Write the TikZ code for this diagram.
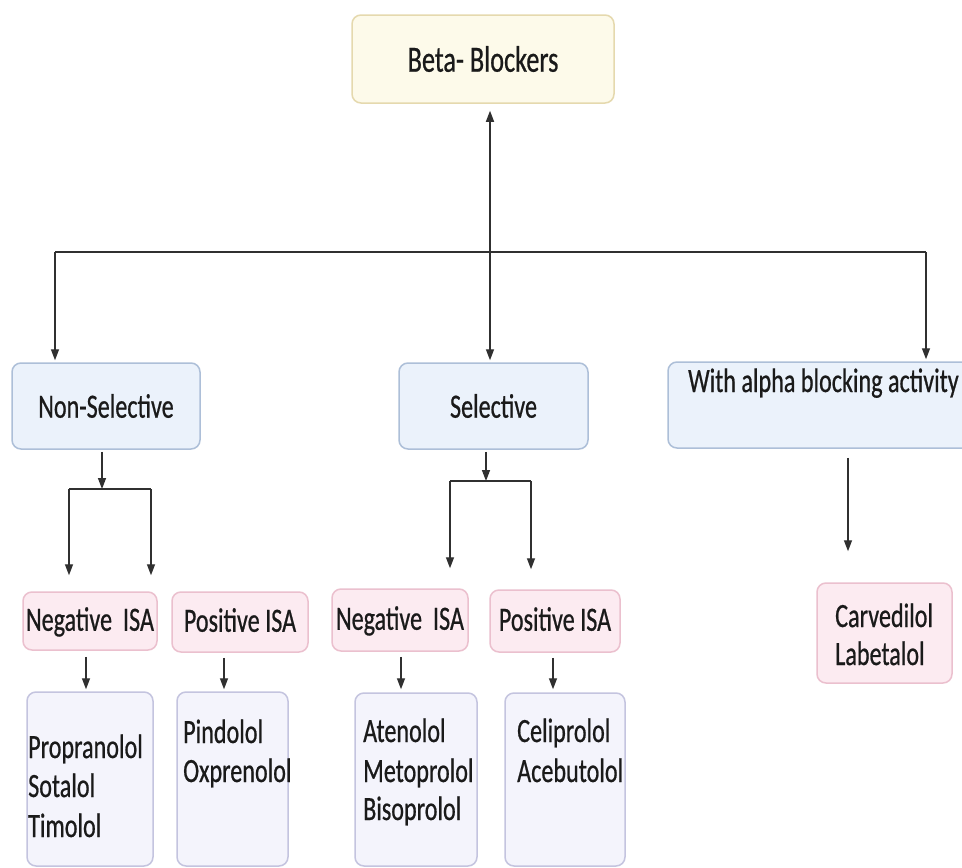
\documentclass[tikz,border=0pt]{standalone}
\usepackage{fontspec}
\setmainfont{Carlito}[FakeStretch=0.71,FakeBold=0.6]
\usetikzlibrary{arrows.meta,calc}
\definecolor{txt}{HTML}{1A1A1A}
\definecolor{lnc}{HTML}{303030}
\definecolor{betaF}{HTML}{FDFAEA}
\definecolor{betaD}{HTML}{E5D9AE}
\definecolor{blueF}{HTML}{EBF2FB}
\definecolor{blueD}{HTML}{ADBFD8}
\definecolor{pinkF}{HTML}{FCEBF1}
\definecolor{pinkD}{HTML}{EBC0CE}
\definecolor{lavF}{HTML}{F4F4FC}
\definecolor{lavD}{HTML}{C4C4DF}
\begin{document}
\begin{tikzpicture}[x=1pt,y=-1pt,
  every node/.style={text=txt, font=\fontsize{34}{40}\selectfont},
  box/.style={rounded corners=9pt, line width=1.5pt, inner sep=0pt},
  betabox/.style={box, fill=betaF, draw=betaD},
  bluebox/.style={box, fill=blueF, draw=blueD},
  pinkbox/.style={box, fill=pinkF, draw=pinkD},
  lavbox/.style={box, fill=lavF, draw=lavD},
  lbl/.style={anchor=base west, inner sep=0pt},
  conn/.style={draw=lnc, line width=1.4pt},
  arr/.style={conn, -{Triangle[length=11pt,width=8pt]}}]
\useasboundingbox (0,0) rectangle (962,868);
\fill[white] (0,0) rectangle (962,868);

% boxes
\node[betabox, minimum width=262pt, minimum height=88pt, font=\fontsize{37}{44}\selectfont] (beta) at (483,59) {Beta- Blockers};
\node[bluebox, minimum width=188pt, minimum height=86pt] (ns) at (106,406) {Non-Selective};
\node[bluebox, minimum width=189pt, minimum height=86pt] (sel) at (493.5,406) {Selective};
\node[bluebox, minimum width=307pt, minimum height=86pt] (al) at (821.5,405) {};
\node[lbl] (altxt) at (688,392) {With alpha blocking activity};

\node[pinkbox, minimum width=134pt, minimum height=58pt, text depth=4pt] (ln) at (90,621) {Negative~~ISA};
\node[pinkbox, minimum width=136pt, minimum height=60pt, text depth=4pt] (lp) at (240,622) {Positive ISA};
\node[pinkbox, minimum width=136pt, minimum height=62pt, text depth=4pt] (sn) at (400,620) {Negative~~ISA};
\node[pinkbox, minimum width=130pt, minimum height=62pt, text depth=4pt] (sp) at (555,621) {Positive ISA};
\node[pinkbox, minimum width=135pt, minimum height=100pt] (cl) at (884.5,633) {};

\node[lavbox, minimum width=126pt, minimum height=174pt] (d1) at (90,779) {};
\node[lavbox, minimum width=111pt, minimum height=174pt] (d2) at (232.5,779) {};
\node[lavbox, minimum width=122pt, minimum height=173pt] (d3) at (416,779.5) {};
\node[lavbox, minimum width=120pt, minimum height=173pt] (d4) at (565,779.5) {};

% drug names
\node[lbl] (t11) at (28,758) {Propranolol};
\node[lbl] (t12) at (28,797) {Sotalol};
\node[lbl] (t13) at (28,837) {Timolol};
\node[lbl] (t21) at (183,743) {Pindolol};
\node[lbl] (t22) at (183,782) {Oxprenolol};
\node[lbl] (t31) at (363,742) {Atenolol};
\node[lbl] (t32) at (363,782) {Metoprolol};
\node[lbl] (t33) at (363,820) {Bisoprolol};
\node[lbl] (t41) at (517,742) {Celiprolol};
\node[lbl] (t42) at (517,782) {Acebutolol};
\node[lbl] (t51) at (835,627) {Carvedilol};
\node[lbl] (t52) at (835,665) {Labetalol};

% main bar
\coordinate (bl) at (55,252);
\coordinate (jc) at (490,252);
\coordinate (br) at (926,252);
\draw[draw=lnc, line width=2.8pt] (bl) -- (br);
\draw[arr, shorten >=7pt] (jc) -- (jc |- beta.south);
\draw[arr, shorten >=2pt] (bl) -- (bl |- ns.north);
\draw[arr, shorten >=2pt] (jc) -- (jc |- sel.north);
\draw[arr, shorten >=2pt] (br) -- (br |- al.north);

% non-selective split
\coordinate (nsj) at (102,489);
\coordinate (nsl) at (69,489);
\coordinate (nsr) at (151,489);
\draw[arr, shorten <=2pt] (nsj |- ns.south) -- (nsj);
\draw[conn] (nsl) -- (nsr);
\draw[arr, shorten >=16pt] (nsl) -- (nsl |- ln.north);
\draw[arr, shorten >=16pt] (nsr) -- (nsr |- lp.north);

% selective split
\coordinate (sj) at (486,481);
\coordinate (sl) at (450,481);
\coordinate (sr) at (531,481);
\draw[arr, shorten <=2pt] (sj |- sel.south) -- (sj);
\draw[conn] (sl) -- (sr);
\draw[arr, shorten >=20pt] (sl) -- (sl |- sn.north);
\draw[arr, shorten >=20pt] (sr) -- (sr |- sp.north);

% alpha
\coordinate (ax) at (848,500);
\draw[arr, shorten <=9pt, shorten >=31pt] (ax |- al.south) -- (ax |- cl.north);

% ISA to drugs
\coordinate (x1) at (86,0);
\coordinate (x2) at (224,0);
\coordinate (x3) at (401,0);
\coordinate (x4) at (553,0);
\draw[arr, shorten <=6pt, shorten >=2pt] (x1 |- ln.south) -- (x1 |- d1.north);
\draw[arr, shorten <=5pt, shorten >=2pt] (x2 |- lp.south) -- (x2 |- d2.north);
\draw[arr, shorten <=5pt, shorten >=3pt] (x3 |- sn.south) -- (x3 |- d3.north);
\draw[arr, shorten <=5pt, shorten >=3pt] (x4 |- sp.south) -- (x4 |- d4.north);
\end{tikzpicture}
\end{document}
